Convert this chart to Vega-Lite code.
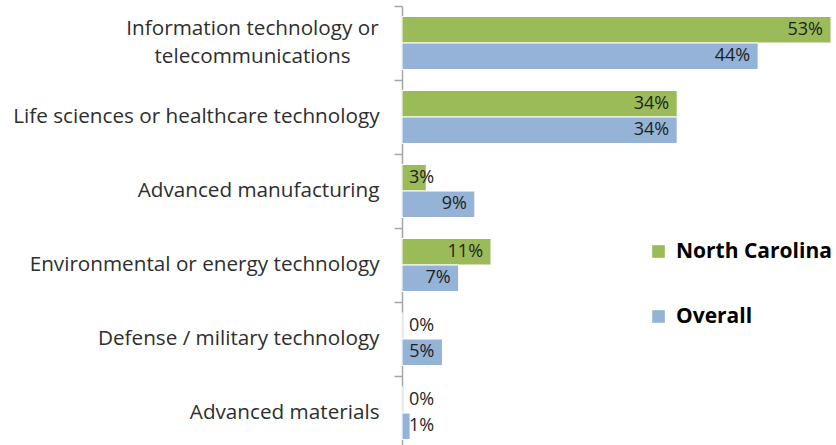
{
  "$schema": "https://vega.github.io/schema/vega-lite/v6.json",
  "width": 429,
  "height": 444,
  "autosize": {"type": "none"},
  "padding": {"left": 402, "top": 6, "right": 5, "bottom": 0},
  "background": "white",
  "config": {"view": {"stroke": null}, "font": "Open Sans"},
  "data": {
    "values": [
      {"category": "Information technology or telecommunications", "series": "North Carolina", "value": 0.53},
      {"category": "Information technology or telecommunications", "series": "Overall", "value": 0.44},
      {"category": "Life sciences or healthcare technology", "series": "North Carolina", "value": 0.34},
      {"category": "Life sciences or healthcare technology", "series": "Overall", "value": 0.34},
      {"category": "Advanced manufacturing", "series": "North Carolina", "value": 0.03},
      {"category": "Advanced manufacturing", "series": "Overall", "value": 0.09},
      {"category": "Environmental or energy technology", "series": "North Carolina", "value": 0.11},
      {"category": "Environmental or energy technology", "series": "Overall", "value": 0.07},
      {"category": "Defense / military technology", "series": "North Carolina", "value": 0.0},
      {"category": "Defense / military technology", "series": "Overall", "value": 0.05},
      {"category": "Advanced materials", "series": "North Carolina", "value": 0.0},
      {"category": "Advanced materials", "series": "Overall", "value": 0.01}
    ]
  },
  "encoding": {
    "y": {
      "field": "category",
      "type": "nominal",
      "sort": null,
      "title": null,
      "scale": {"paddingInner": 0, "paddingOuter": 0},
      "axis": {
        "bandPosition": 0,
        "domainColor": "#a6a6a6",
        "domainWidth": 1.5,
        "tickColor": "#a6a6a6",
        "tickWidth": 1.5,
        "tickSize": 8,
        "labelPadding": {"condition": {"test": "datum.value == 'Information technology or telecommunications'", "value": 142}, "value": 15},
        "labelAlign": {"condition": {"test": "datum.value == 'Information technology or telecommunications'", "value": "center"}, "value": "right"},
        "labelOffset": {"condition": {"test": "datum.value == 'Information technology or telecommunications'", "value": -14}, "value": 0},
        "labelFont": "Open Sans",
        "labelFontSize": 20.7,
        "labelColor": "#2e2e2e",
        "labelLimit": 500,
        "labelLineHeight": 28,
        "labelBound": false,
        "labelOverlap": false,
        "labelExpr": "datum.label == 'Information technology or telecommunications' ? ['Information technology or', 'telecommunications'] : datum.label"
      }
    },
    "yOffset": {
      "field": "series",
      "type": "nominal",
      "sort": ["North Carolina", "Overall"],
      "scale": {"paddingInner": 0, "paddingOuter": 0.396}
    }
  },
  "layer": [
    {
      "mark": {"type": "bar", "stroke": "white", "strokeWidth": 1},
      "encoding": {
        "x": {"field": "value", "type": "quantitative", "scale": {"domain": [0, 0.53], "nice": false, "zero": true}, "axis": null},
        "color": {
          "field": "series",
          "type": "nominal",
          "sort": ["North Carolina", "Overall"],
          "scale": {"domain": ["North Carolina", "Overall"], "range": ["#9BBB59", "#95B3D7"]},
          "legend": {
            "orient": "none",
            "legendX": 246,
            "legendY": 235,
            "title": null,
            "symbolType": "square",
            "symbolSize": 160,
            "symbolStrokeWidth": 0,
            "labelFont": "Open Sans",
            "labelFontSize": 21,
            "labelFontWeight": "bold",
            "labelColor": "#000000",
            "labelOffset": 7,
            "rowPadding": 43,
            "labelLimit": 300
          }
        }
      }
    },
    {
      "transform": [{"filter": "datum.value >= 0.05"}],
      "mark": {"type": "text", "align": "right", "baseline": "middle", "dx": -8, "font": "Open Sans", "fontSize": 18, "color": "#1f1f1f"},
      "encoding": {
        "x": {"field": "value", "type": "quantitative"},
        "text": {"field": "value", "type": "quantitative", "format": ".0%"}
      }
    },
    {
      "transform": [{"filter": "datum.value < 0.05"}],
      "mark": {"type": "text", "align": "left", "baseline": "middle", "dx": 7, "font": "Open Sans", "fontSize": 18, "color": "#1f1f1f"},
      "encoding": {
        "x": {"datum": 0, "type": "quantitative"},
        "text": {"field": "value", "type": "quantitative", "format": ".0%"}
      }
    }
  ]
}
